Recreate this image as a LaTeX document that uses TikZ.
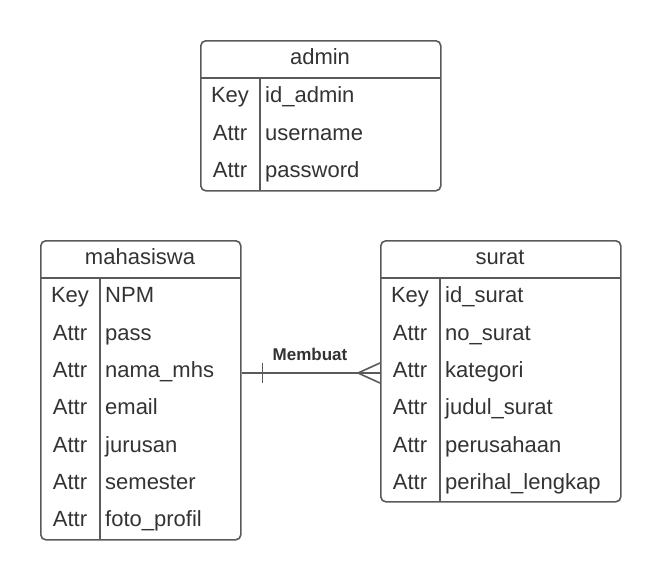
\documentclass[tikz,border=0pt]{standalone}
\usepackage{fontspec}
\setmainfont{Liberation Sans}
\definecolor{lc}{HTML}{5A5A5A}
\definecolor{tc}{HTML}{333333}
\tikzset{
  ent/.style={draw=lc, line width=1.6pt, rounded corners=5pt, inner sep=0pt},
  sep/.style={draw=lc, line width=1.6pt},
  txt/.style={text=tc, font=\fontsize{22}{26}\selectfont, inner sep=0pt},
  keyt/.style={txt, anchor=base},
  valt/.style={txt, anchor=base west},
  rel/.style={draw=lc, line width=1.6pt},
  rellab/.style={text=tc, font=\fontsize{17}{20}\selectfont\bfseries, inner sep=0pt, anchor=base},
}
\begin{document}
\begin{tikzpicture}[x=1pt,y=-1pt]
\useasboundingbox (0,0) rectangle (660,579);
% admin
\node[ent, minimum width=240pt, minimum height=150pt, anchor=north west] (admin) at (200,40) {};
\draw[sep] (200,78) -- (440,78);
\draw[sep] (260,78) -- (260,190);
\node[keyt] (adminT) at (320,64) {admin};
\foreach \k/\v [count=\i from 0] in {Key/id\_admin, Attr/username, Attr/password}{
  \node[keyt] (aK\i) at (230,102.8+37.3*\i) {\k};
  \node[valt] (aV\i) at (265,102.8+37.3*\i) {\v};
}
% mahasiswa
\node[ent, minimum width=200pt, minimum height=299pt, anchor=north west] (mhs) at (40,240) {};
\draw[sep] (40,278) -- (240,278);
\draw[sep] (100,278) -- (100,539);
\node[keyt] (mhsT) at (140,264) {mahasiswa};
\foreach \k/\v [count=\i from 0] in {Key/NPM, Attr/pass, Attr/nama\_mhs, Attr/email, Attr/jurusan, Attr/semester, Attr/foto\_profil}{
  \node[keyt] (mK\i) at (70,302.8+37.3*\i) {\k};
  \node[valt] (mV\i) at (105,302.8+37.3*\i) {\v};
}
% surat
\node[ent, minimum width=240pt, minimum height=261pt, anchor=north west] (srt) at (380,240) {};
\draw[sep] (380,278) -- (620,278);
\draw[sep] (440,278) -- (440,501);
\node[keyt] (srtT) at (500,264) {surat};
\foreach \k/\v [count=\i from 0] in {Key/id\_surat, Attr/no\_surat, Attr/kategori, Attr/judul\_surat, Attr/perusahaan, Attr/perihal\_lengkap}{
  \node[keyt] (sK\i) at (410,302.8+37.3*\i) {\k};
  \node[valt] (sV\i) at (445,302.8+37.3*\i) {\v};
}
% relation
\coordinate (r1) at (mhs.east |- 0,373);
\coordinate (r2) at (srt.west |- 0,373);
\draw[rel] (r1) -- (r2);
\draw[rel] ([xshift=21pt,yshift=-10pt]r1) -- ([xshift=21pt,yshift=10pt]r1);
\draw[rel] ([xshift=-22pt]r2) -- ([yshift=-10pt]r2);
\draw[rel] ([xshift=-22pt]r2) -- ([yshift=10pt]r2);
\node[rellab] (relL) at (310,360.5) {Membuat};
\end{tikzpicture}
\end{document}
